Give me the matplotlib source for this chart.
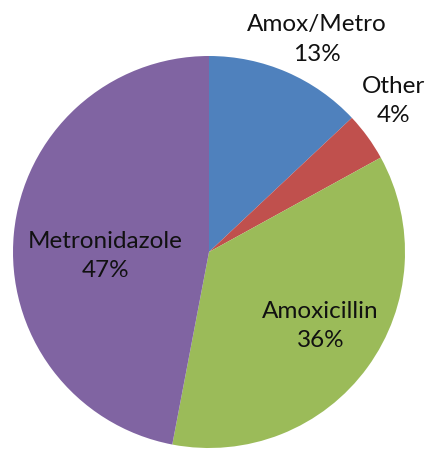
import matplotlib.pyplot as plt
import numpy as np

labels = ['Amox/Metro', 'Other', 'Amoxicillin', 'Metronidazole']
values = [13, 4, 36, 47]
colors = ['#4F81BD', '#C0504D', '#9BBB59', '#8064A2']

# label placement: radial distance (in radii) and angle tweak (deg) per slice
label_dist = [1.22, 1.22, 0.68, 0.53]
label_dang = [-3.4, 3.4, 2.9, 7.0]

W, H = 431, 452
cx, cy, r = 209, 253, 196

fig = plt.figure(figsize=(W / 100, H / 100), dpi=100)
ax = fig.add_axes([(cx - r) / W, (H - cy - r) / H, 2 * r / W, 2 * r / H])
wedges, _ = ax.pie(values, colors=colors, startangle=90, counterclock=False,
                   radius=1, wedgeprops=dict(linewidth=0))
ax.set_xlim(-1, 1)
ax.set_ylim(-1, 1)
ax.set_aspect('equal')
ax.axis('off')

total = sum(values)
for w, lab, v, d, da in zip(wedges, labels, values, label_dist, label_dang):
    ang = np.deg2rad((w.theta1 + w.theta2) / 2 + da)
    ax.text(d * np.cos(ang), d * np.sin(ang), '{}\n{:.0f}%'.format(lab, 100 * v / total),
            ha='center', va='center', fontsize=17.5, family='Lato',
            color='#111111', linespacing=1.5, clip_on=False)

fig.savefig('out.png', dpi=100)
